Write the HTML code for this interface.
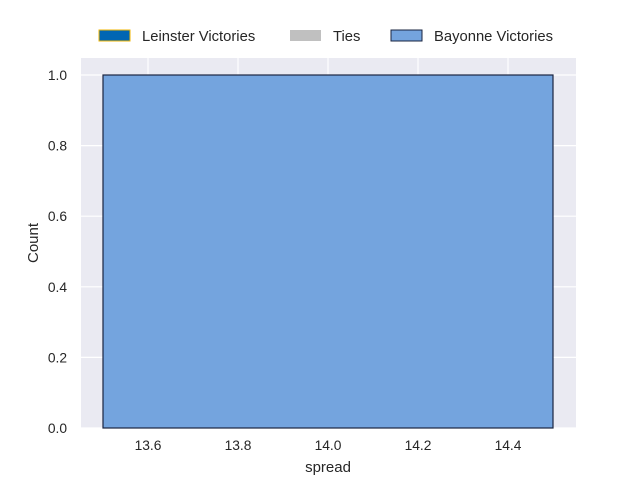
<!DOCTYPE html>
<html><head><meta charset="utf-8"><style>
body{margin:0;background:#fff;font-family:"Liberation Sans",sans-serif;}
text{font-family:"Liberation Sans",sans-serif;fill:#262626;}
</style></head><body>
<svg width="640" height="480">
<rect x="81" y="58" width="495" height="370" fill="#EAEAF2"/>
<g id="grid"></g><g id="bars"></g><g id="ticks"></g>
<text x="328" y="472" text-anchor="middle" font-size="15">spread</text>
<text transform="translate(38,243) rotate(-90)" text-anchor="middle" font-size="15">Count</text>
<g>
<g><rect x="99" y="30" width="31" height="11" fill="#0066B3" stroke="#F2B600" stroke-width="1"/><text x="142" y="41" font-size="14.8">Leinster Victories</text></g>
<g><rect x="290" y="30" width="31" height="11" fill="#C0C0C0"/><text x="333" y="41" font-size="14.8">Ties</text></g>
<g><rect x="391" y="30" width="31" height="11" fill="#74A4DE" stroke="#1a2440" stroke-width="1"/><text x="434" y="41" font-size="14.8">Bayonne Victories</text></g>
</g>
</svg>
<script>
const binEdges=[13.5,14.5];
const counts=[1];
const xTicks=[13.6,13.8,14.0,14.2,14.4];
const yTicks=[0.0,0.2,0.4,0.6,0.8,1.0];
const NS="http://www.w3.org/2000/svg";
const xs=v=>103+(v-13.5)*450;
const ys=v=>428-v*353;
function mk(t,a,p){const e=document.createElementNS(NS,t);for(const k in a)e.setAttribute(k,a[k]);p.appendChild(e);return e;}
const g=document.getElementById('grid'),b=document.getElementById('bars'),tk=document.getElementById('ticks');
xTicks.forEach(v=>{const l=mk('line',{x1:xs(v),x2:xs(v),y1:58,y2:428,stroke:'#fff','stroke-width':1.2},g);


const t=mk('text',{x:xs(v),y:450,'text-anchor':'middle','font-size':13.8},tk);t.textContent=v.toFixed(1);

});
yTicks.forEach(v=>{const l=mk('line',{x1:81,x2:576,y1:ys(v),y2:ys(v),stroke:'#fff','stroke-width':1.2},g);


const t=mk('text',{x:67,y:ys(v)+5,'text-anchor':'end','font-size':13.8},tk);t.textContent=v.toFixed(1);

});
counts.forEach((c,i)=>{const r=mk('rect',{x:xs(binEdges[i]),y:ys(c),width:xs(binEdges[i+1])-xs(binEdges[i]),height:ys(0)-ys(c),fill:'#74A4DE',stroke:'#1a2440','stroke-width':1.2},b);

});
</script>
</body></html>
